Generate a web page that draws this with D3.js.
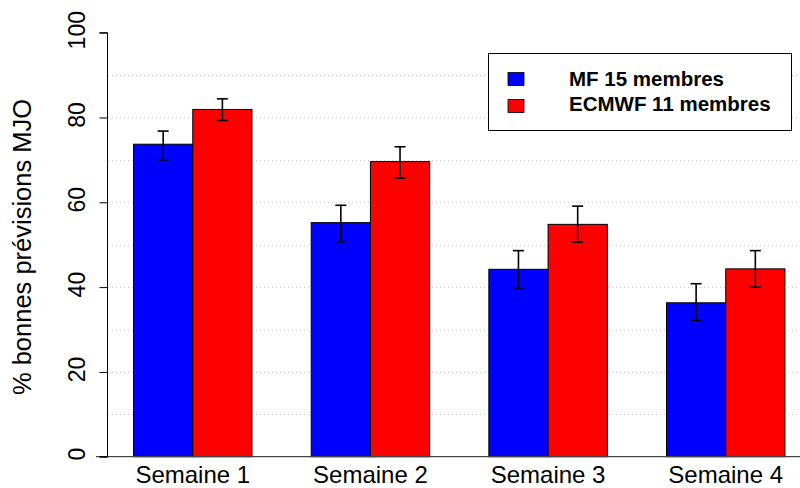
<!DOCTYPE html>
<html><head><meta charset="utf-8">
<script src="https://cdn.jsdelivr.net/npm/d3@7"></script>
<style>body{margin:0;background:#fff}svg{display:block}text{font-family:"Liberation Sans",Arial,sans-serif}</style>
</head><body><svg id="c" width="800" height="488"></svg>
<script>
const categories = ["Semaine 1","Semaine 2","Semaine 3","Semaine 4"];
const seriesNames = ["MF 15 membres","ECMWF 11 membres"];
const seriesColors = ["#0000ff","#ff0000"];
const mfValues = [73.7, 55.2, 44.2, 36.3];
const mfLow = [70.0, 50.7, 39.8, 32.2];
const mfHigh = [76.8, 59.3, 48.6, 40.8];
const ecValues = [81.9, 69.6, 54.8, 44.3];
const ecLow = [79.3, 65.7, 50.6, 40.0];
const ecHigh = [84.4, 73.1, 59.1, 48.6];
const yTicks = [0, 20, 40, 60, 80, 100];
const gridValues = [10, 20, 30, 40, 50, 60, 70, 80, 90];

const svg = d3.select("#c");
const x = d3.scaleLinear().domain([0.56, 12.44]).range([107.5, 811]);
const y = d3.scaleLinear().domain([0, 100]).range([456.7, 32.7]);

// grid
svg.append("g").selectAll("line").data(gridValues).join("line")
  .attr("x1", 108).attr("x2", 800)
  .attr("y1", d => Math.round(y(d)) + 0.5).attr("y2", d => Math.round(y(d)) + 0.5)
  .attr("stroke", "#c8c8c8").attr("stroke-width", 1).attr("stroke-dasharray", "1,3");

const series = [
  {vals: mfValues, lo: mfLow, hi: mfHigh, off: 0},
  {vals: ecValues, lo: ecLow, hi: ecHigh, off: 1}
];
series.forEach((s, si) => {
  const g = svg.append("g");
  g.selectAll("rect").data(s.vals).join("rect")
    .attr("x", (d, i) => x(1 + 3 * i + s.off))
    .attr("width", x(2) - x(1))
    .attr("y", d => y(d))
    .attr("height", d => y(0) - y(d))
    .attr("fill", seriesColors[si])
    .attr("stroke", "#000").attr("stroke-width", 1);
});
series.forEach((s) => {
  const g = svg.append("g").attr("stroke", "#000").attr("stroke-width", 1.6);
  s.vals.forEach((d, i) => {
    const cx = x(1.5 + 3 * i + s.off);
    g.append("line").attr("x1", cx).attr("x2", cx).attr("y1", y(s.lo[i])).attr("y2", y(s.hi[i]));
    g.append("line").attr("x1", cx - 5.5).attr("x2", cx + 5.5).attr("y1", y(s.lo[i])).attr("y2", y(s.lo[i]));
    g.append("line").attr("x1", cx - 5.5).attr("x2", cx + 5.5).attr("y1", y(s.hi[i])).attr("y2", y(s.hi[i]));
  });
});

// baseline
svg.append("line").attr("x1", 96).attr("x2", 800).attr("y1", y(0)).attr("y2", y(0))
  .attr("stroke", "#444").attr("stroke-width", 1.2);

// y axis
const yAxis = d3.axisLeft(y).tickValues(yTicks).tickSize(8).tickFormat(d3.format("d"));
const ya = svg.append("g").attr("transform", "translate(107.5,0)").call(yAxis);
ya.select(".domain").attr("d", `M-8,${y(100)}H0V${y(0)}H-8`).attr("stroke", "#000");
ya.selectAll(".tick line").attr("stroke", "#000");
ya.selectAll(".tick text").attr("x", null).attr("dy", null)
  .attr("transform", "translate(-31,-3) rotate(-90)")
  .attr("text-anchor", "middle").attr("dominant-baseline", "central")
  .style("font-size", "23px").attr("fill", "#000").style("font-family", "Liberation Sans, Arial, sans-serif");

svg.append("text").attr("transform", "translate(31,247) rotate(-90)")
  .attr("text-anchor", "middle").style("font-size", "25.5px").text("% bonnes prévisions MJO");

// x labels
svg.append("g").selectAll("text").data(categories).join("text")
  .attr("x", (d, i) => x(2 + 3 * i)).attr("y", 482.5)
  .attr("text-anchor", "middle").style("font-size", "24px").text(d => d);

// legend
const lg = svg.append("g");
lg.append("rect").attr("x", 488.5).attr("y", 53.5).attr("width", 303).attr("height", 77)
  .attr("fill", "#fff").attr("stroke", "#000").attr("stroke-width", 1);
seriesNames.forEach((n, i) => {
  lg.append("rect").attr("x", 508).attr("y", 72.5 + i * 27).attr("width", 16).attr("height", 13)
    .attr("fill", seriesColors[i]).attr("stroke", "#000").attr("stroke-width", 0.8);
  lg.append("text").attr("x", 569).attr("y", 85.5 + i * 25.5)
    .style("font-size", "20.5px").style("font-weight", "bold").text(n);
});
</script></body></html>
